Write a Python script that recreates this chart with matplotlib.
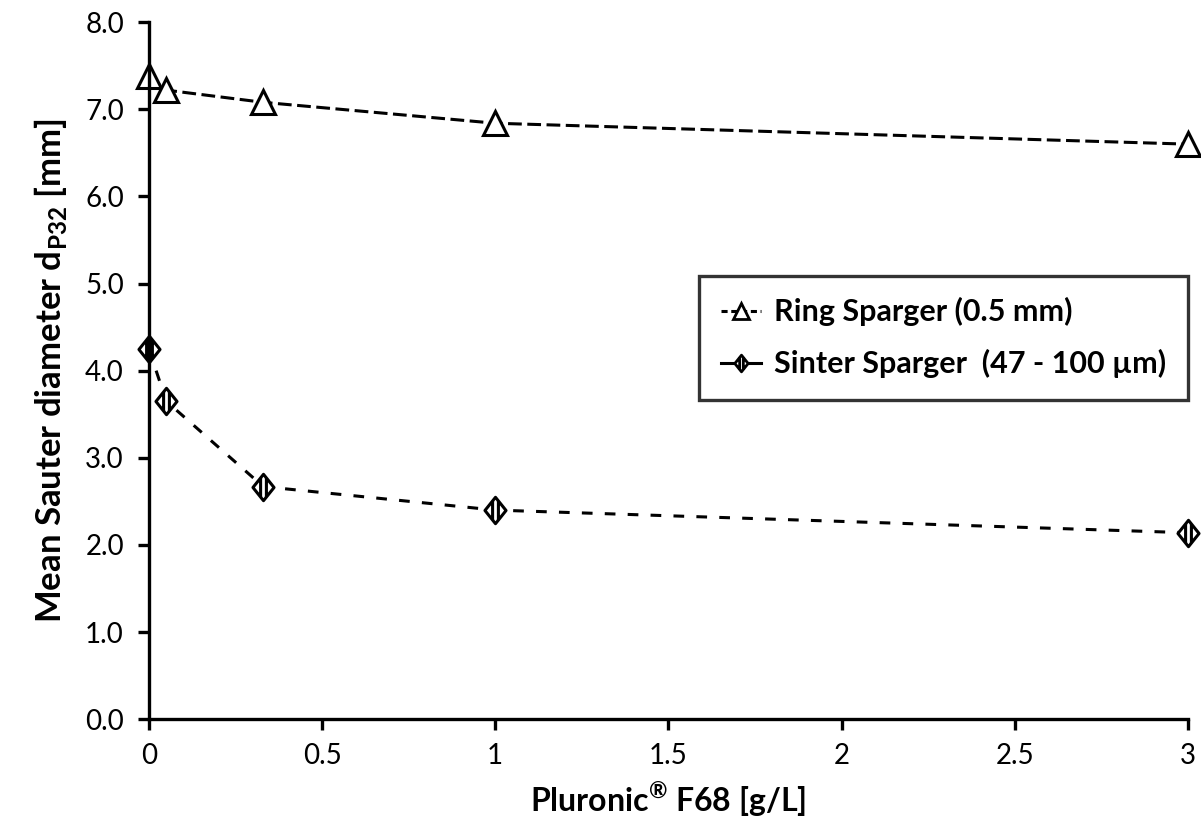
import matplotlib
matplotlib.use("Agg")
import matplotlib.pyplot as plt
from matplotlib.path import Path
from matplotlib.lines import Line2D

plt.rcParams['font.family'] = ['Lato', 'DejaVu Sans']
plt.rcParams['mathtext.fontset'] = 'custom'
plt.rcParams['mathtext.rm'] = 'Lato:bold'
plt.rcParams['mathtext.bf'] = 'Lato:bold'

# data
pluronic_ring = [0, 0.05, 0.33, 1, 3]
ring_d32 = [7.38, 7.22, 7.08, 6.84, 6.60]
pluronic_sinter = [0, 0.05, 0.33, 1, 3]
sinter_d32 = [4.25, 3.65, 2.67, 2.40, 2.14]

x_ticks = [0, 0.5, 1, 1.5, 2, 2.5, 3]
x_tick_labels = ['0', '0.5', '1', '1.5', '2', '2.5', '3']
y_ticks = [0, 1, 2, 3, 4, 5, 6, 7, 8]
legend_labels = ['Ring Sparger (0.5 mm)', 'Sinter Sparger  (47 - 100 µm)']

# diamond with vertical stripes
diamond = Path(
    [(0, 1), (0.8, 0), (0, -1), (-0.8, 0), (0, 1),
     (-0.22, 0.72), (-0.22, -0.72), (0.22, 0.72), (0.22, -0.72)],
    [Path.MOVETO, Path.LINETO, Path.LINETO, Path.LINETO, Path.CLOSEPOLY,
     Path.MOVETO, Path.LINETO, Path.MOVETO, Path.LINETO])

fig = plt.figure(figsize=(12.01, 8.21), dpi=100)
ax = fig.add_axes([0.124, 0.124, 0.865, 0.849])

ax.plot(pluronic_ring, ring_d32, color='black', lw=2.2, dashes=(4.5, 1.8),
        marker='^', ms=17, mfc='white', mec='black', mew=2.2, clip_on=False)
ax.plot(pluronic_sinter, sinter_d32, color='black', lw=2.2, dashes=(3.5, 4),
        marker=diamond, ms=19, mfc='white', mec='black', mew=2.2, clip_on=False)

ax.set_xlim(0, 3)
ax.set_ylim(0, 8)
ax.set_xticks(x_ticks)
ax.set_xticklabels(x_tick_labels)
ax.set_yticks(y_ticks)
ax.set_yticklabels([f'{v:.1f}' for v in y_ticks])

for s in ['top', 'right']:
    ax.spines[s].set_visible(False)
for s in ['left', 'bottom']:
    ax.spines[s].set_linewidth(2.4)
ax.tick_params(direction='out', length=8, width=2.4, labelsize=20, pad=9)
ax.tick_params(axis='y', pad=10)

ax.set_xlabel(r'Pluronic$^{®}$ F68 [g/L]', fontsize=23, fontweight='bold', labelpad=8)
ax.set_ylabel(r'Mean Sauter diameter d$_{\mathrm{P32}}$ [mm]', fontsize=25,
              fontweight='bold', labelpad=12)

# legend handles: ring dashed, sinter solid
h_ring = Line2D([], [], color='black', lw=2.2, dashes=(2, 1.2), marker='^', ms=11,
                mfc='white', mec='black', mew=2)
h_sinter = Line2D([], [], color='black', lw=2.2, marker=diamond, ms=12,
                  mfc='white', mec='black', mew=2)
leg = ax.legend([h_ring, h_sinter], legend_labels,
                loc='upper right', bbox_to_anchor=(1.0, 0.636), borderaxespad=0,
                prop={'weight': 'bold', 'size': 22}, frameon=True, fancybox=False,
                edgecolor='black', handlelength=1.3, handletextpad=0.45,
                borderpad=0.7, labelspacing=0.75)
leg.get_frame().set_linewidth(2.4)

fig.savefig('out.png', dpi=100)
